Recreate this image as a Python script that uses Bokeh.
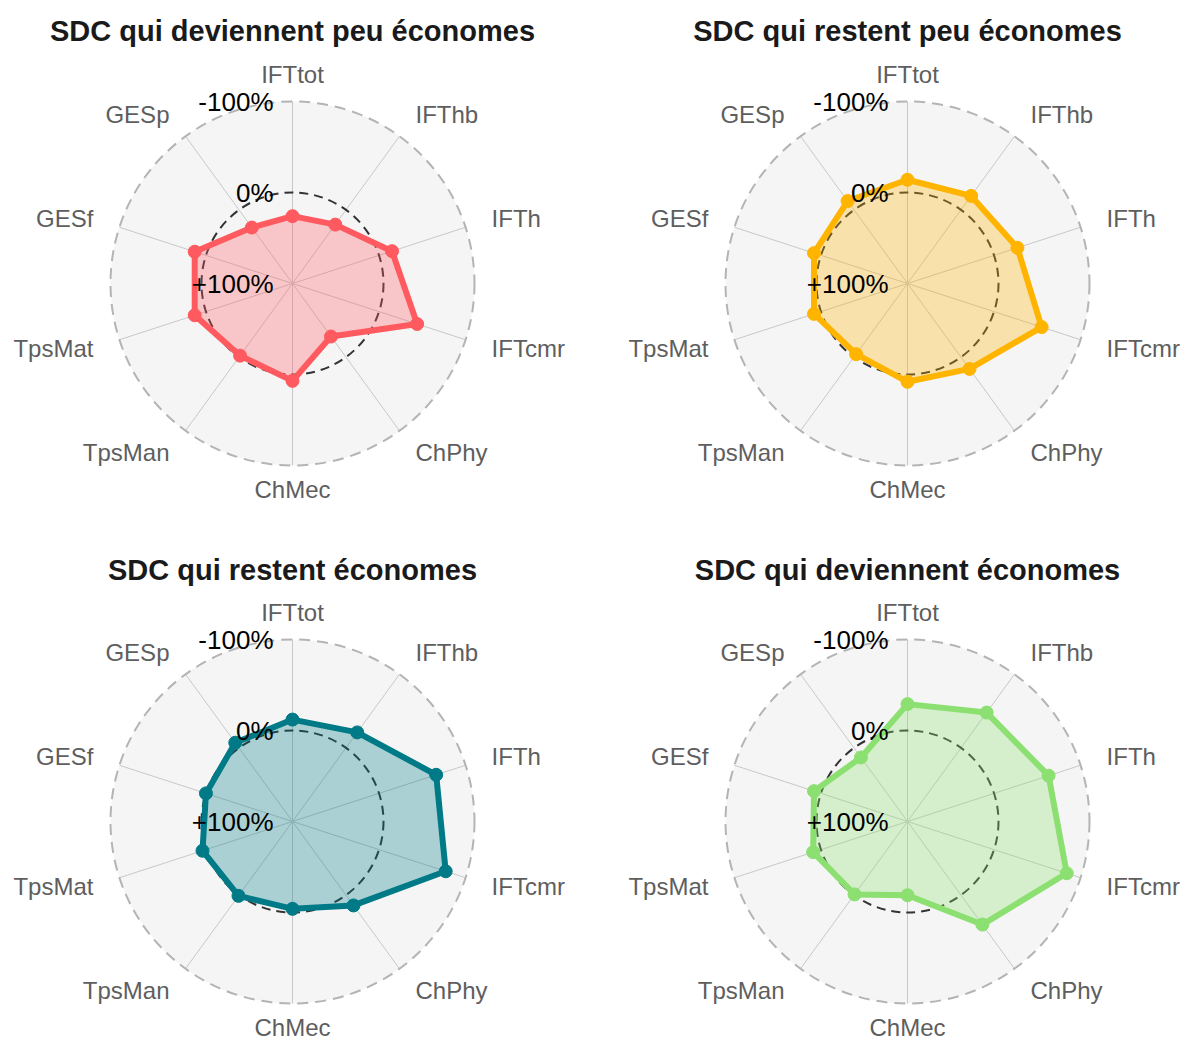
import numpy as np
from bokeh.plotting import figure
from bokeh.models import Range1d
from bokeh.embed import file_html
from bokeh.resources import INLINE
from bokeh.core.properties import value

# ---------------- data ----------------
axis_labels = ["IFTtot", "IFThb", "IFTh", "IFTcmr", "ChPhy",
               "ChMec", "TpsMan", "TpsMat", "GESf", "GESp"]

titles = ["SDC qui deviennent peu économes",
          "SDC qui restent peu économes",
          "SDC qui restent économes",
          "SDC qui deviennent économes"]

# variation (%) per axis; -100% on the outer ring, 0% mid ring, +100% at centre
var_deviennent_peu = [26, 20, -15, -44, 28, -7, 2, -13, -13, 24]
var_restent_peu = [-14, -19, -27, -55, -16, -8, 4, -8, -8, -12]
var_restent_eco = [-12, -21, -66, -77, -14, 4, -1, -4, 0, -7]
var_deviennent_eco = [-29, -48, -63, -84, -40, 19, 1, -9, -8, 13]

series = [var_deviennent_peu, var_restent_peu, var_restent_eco, var_deviennent_eco]
colors = ["#FF5A5F", "#FFB400", "#007A87", "#8CE071"]

scale_labels = ["-100%", "0%", "+100%"]
scale_values = [-100, 0, 100]

# ---------------- layout (page pixel coordinates) ----------------
W, H = 1190, 1042
centers = [(292, 283), (907, 283), (292, 821), (907, 821)]
title_y = [30, 30, 569, 569]
R = 182.0
LABEL_R = 1.15 * R
BOTTOM_LABEL_R = 1.13 * R
FONT = "Liberation Sans"


def py(y):
    """page y -> data y (upwards)"""
    return H - y


def frac(v):
    return (100.0 - v) / 200.0


p = figure(width=W, height=H, x_range=Range1d(0, W), y_range=Range1d(0, H),
           output_backend="svg", toolbar_location=None, min_border=0)
p.axis.visible = False
p.grid.visible = False
p.outline_line_color = None
p.background_fill_color = "white"
p.border_fill_color = "white"

n = len(axis_labels)
theta = np.arange(n) * 2 * np.pi / n
sx = np.sin(theta)
sy = np.cos(theta)

for k in range(4):
    cx, cyp = centers[k]
    cy = py(cyp)
    # background disc
    p.circle(x=[cx], y=[cy], radius=R, fill_color="#F5F5F5", line_color=None)
    # spokes
    p.segment(x0=[cx] * n, y0=[cy] * n, x1=list(cx + R * sx), y1=list(cy + R * sy),
              line_color="#C8C8C8", line_width=1)
    # outer ring (-100%)
    p.circle(x=[cx], y=[cy], radius=R * frac(-100), fill_color=None,
             line_color="#B4B4B4", line_width=2, line_dash="11 7")
    # mid ring (0%)
    p.circle(x=[cx], y=[cy], radius=R * frac(0), fill_color=None,
             line_color="#333333", line_width=2, line_dash="9 6")

    vals = np.array(series[k], dtype=float)
    rr = R * (100.0 - vals) / 200.0
    xs = cx + rr * sx
    ys = cy + rr * sy
    xs_c = list(xs) + [xs[0]]
    ys_c = list(ys) + [ys[0]]
    p.patch(x=list(xs), y=list(ys), fill_color=colors[k], fill_alpha=0.3, line_color=None)
    p.line(x=xs_c, y=ys_c, line_color=colors[k], line_width=6, line_join="round")
    p.scatter(x=list(xs), y=list(ys), size=13, fill_color=colors[k], line_color=colors[k])

    # axis labels
    for i, lab in enumerate(axis_labels):
        lr = BOTTOM_LABEL_R if i == n // 2 else LABEL_R
        lx = cx + lr * sx[i]
        ly = cy + lr * sy[i]
        if i == 0 or i == n // 2:
            align = "center"
        elif i < n // 2:
            align = "left"
        else:
            align = "right"
        p.text(x=[lx], y=[ly], text=[lab], text_font=value(FONT), text_font_size="24px",
               text_color="#5E5E5E", text_align=align, text_baseline="middle")

    # scale labels
    for lab, v in zip(scale_labels, scale_values):
        p.text(x=[cx - 19], y=[cy + R * frac(v)], text=[lab], text_font=value(FONT),
               text_font_size="26px", text_color="black", text_align="right",
               text_baseline="middle")

    # title
    p.text(x=[cx], y=[py(title_y[k])], text=[titles[k]], text_font=value(FONT),
           text_font_size="29px", text_font_style="bold", text_color="#1A1A1A",
           text_align="center", text_baseline="middle")

open("out.html", "w").write(file_html(p, INLINE))
